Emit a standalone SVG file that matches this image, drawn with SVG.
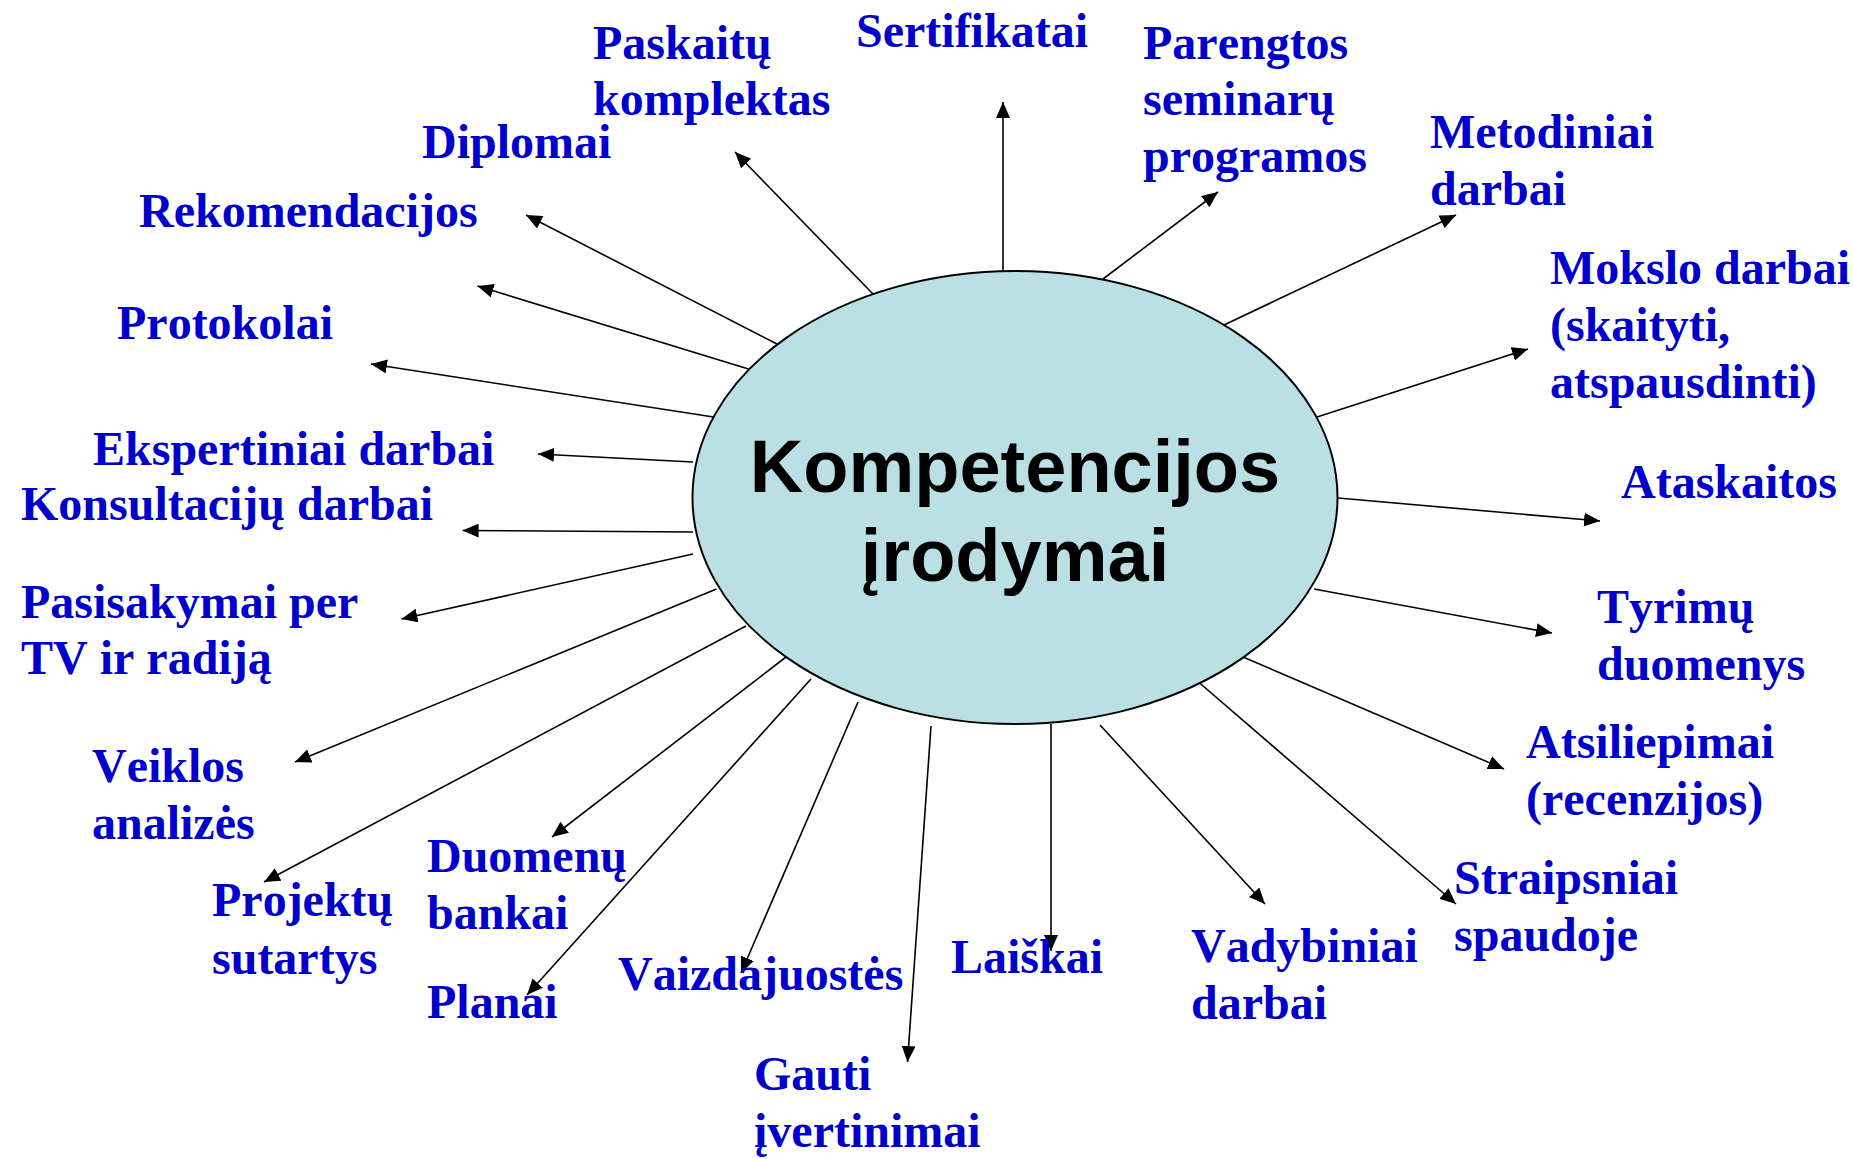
<svg xmlns="http://www.w3.org/2000/svg" width="1853" height="1159" viewBox="0 0 1853 1159">
<defs>
<marker id="ah" markerUnits="userSpaceOnUse" markerWidth="16" markerHeight="14" refX="16" refY="7" orient="auto">
<path d="M0,0 L16,7 L0,14 z" fill="#000"/>
</marker>
<style>
.lbl{font-family:"Liberation Serif","Times New Roman",serif;font-weight:bold;font-size:48px;fill:#0000CC;font-kerning:none}
.conn line{stroke:#000;stroke-width:1.6;marker-end:url(#ah)}
.ctr{font-family:"Liberation Sans",Arial,sans-serif;font-weight:bold;font-size:74px;fill:#000;text-anchor:middle}
</style>
</defs>
<rect width="1853" height="1159" fill="#fff"/>
<g id="connectors" class="conn">
<line x1="873" y1="294" x2="735" y2="152"/>
<line x1="1003" y1="271" x2="1003" y2="102"/>
<line x1="1103" y1="279" x2="1218" y2="192"/>
<line x1="1224" y1="325" x2="1456" y2="215"/>
<line x1="1317" y1="417" x2="1528" y2="349"/>
<line x1="1338" y1="498" x2="1600" y2="521"/>
<line x1="1314" y1="589" x2="1552" y2="633"/>
<line x1="1243" y1="657" x2="1504" y2="769"/>
<line x1="1195" y1="679" x2="1456" y2="904"/>
<line x1="1100" y1="725" x2="1265" y2="904"/>
<line x1="1051" y1="724" x2="1051" y2="951"/>
<line x1="931" y1="726" x2="907.5" y2="1062"/>
<line x1="858" y1="702" x2="741" y2="973"/>
<line x1="811" y1="679" x2="527" y2="995"/>
<line x1="786" y1="657" x2="552" y2="837"/>
<line x1="746" y1="626" x2="264" y2="882"/>
<line x1="716.5" y1="589" x2="295" y2="762"/>
<line x1="693" y1="554" x2="401.5" y2="619"/>
<line x1="693" y1="532" x2="462.6" y2="530.5"/>
<line x1="693" y1="462" x2="538" y2="454"/>
<line x1="713.5" y1="417" x2="371" y2="364"/>
<line x1="748.5" y1="369" x2="477.5" y2="286"/>
<line x1="777" y1="344" x2="526" y2="215"/>
</g>
<g id="center">
<ellipse cx="1015" cy="497.5" rx="322.5" ry="226.5" fill="#BBE0E3" stroke="#000" stroke-width="2"/>
<text class="ctr" x="1015" y="492">Kompetencijos</text>
<text class="ctr" x="1015" y="581">įrodymai</text>
</g>
<g id="n-paskaitu"><text class="lbl" x="593" y="59">Paskaitų</text><text class="lbl" x="593" y="115">komplektas</text></g>
<g id="n-sertifikatai"><text class="lbl" x="856" y="47">Sertifikatai</text></g>
<g id="n-parengtos"><text class="lbl" x="1143" y="59">Parengtos</text><text class="lbl" x="1143" y="115">seminarų</text><text class="lbl" x="1143" y="172">programos</text></g>
<g id="n-metodiniai"><text class="lbl" x="1430" y="148">Metodiniai</text><text class="lbl" x="1430" y="205">darbai</text></g>
<g id="n-mokslo"><text class="lbl" x="1550" y="284">Mokslo darbai</text><text class="lbl" x="1550" y="341">(skaityti,</text><text class="lbl" x="1550" y="398">atspausdinti)</text></g>
<g id="n-ataskaitos"><text class="lbl" x="1621" y="498">Ataskaitos</text></g>
<g id="n-tyrimu"><text class="lbl" x="1597" y="623">Tyrimų</text><text class="lbl" x="1597" y="680">duomenys</text></g>
<g id="n-atsiliepimai"><text class="lbl" x="1526" y="758">Atsiliepimai</text><text class="lbl" x="1526" y="815">(recenzijos)</text></g>
<g id="n-straipsniai"><text class="lbl" x="1454" y="894">Straipsniai</text><text class="lbl" x="1454" y="951">spaudoje</text></g>
<g id="n-vadybiniai"><text class="lbl" x="1191" y="962">Vadybiniai</text><text class="lbl" x="1191" y="1019">darbai</text></g>
<g id="n-laiskai"><text class="lbl" x="951" y="973">Laiškai</text></g>
<g id="n-gauti"><text class="lbl" x="754" y="1090">Gauti</text><text class="lbl" x="754" y="1147">įvertinimai</text></g>
<g id="n-vaizdajuostes"><text class="lbl" x="618" y="990">Vaizdajuostės</text></g>
<g id="n-planai"><text class="lbl" x="427" y="1018">Planai</text></g>
<g id="n-duomenu"><text class="lbl" x="427" y="872">Duomenų</text><text class="lbl" x="427" y="929">bankai</text></g>
<g id="n-projektu"><text class="lbl" x="212" y="916">Projektų</text><text class="lbl" x="212" y="974">sutartys</text></g>
<g id="n-veiklos"><text class="lbl" x="92" y="782">Veiklos</text><text class="lbl" x="92" y="839">analizės</text></g>
<g id="n-pasisakymai"><text class="lbl" x="21" y="618">Pasisakymai per</text><text class="lbl" x="21" y="674">TV ir radiją</text></g>
<g id="n-konsultaciju"><text class="lbl" x="21" y="520">Konsultacijų darbai</text></g>
<g id="n-ekspertiniai"><text class="lbl" x="93" y="465">Ekspertiniai darbai</text></g>
<g id="n-protokolai"><text class="lbl" x="117" y="339">Protokolai</text></g>
<g id="n-rekomendacijos"><text class="lbl" x="139" y="227">Rekomendacijos</text></g>
<g id="n-diplomai"><text class="lbl" x="422" y="158">Diplomai</text></g>
</svg>
